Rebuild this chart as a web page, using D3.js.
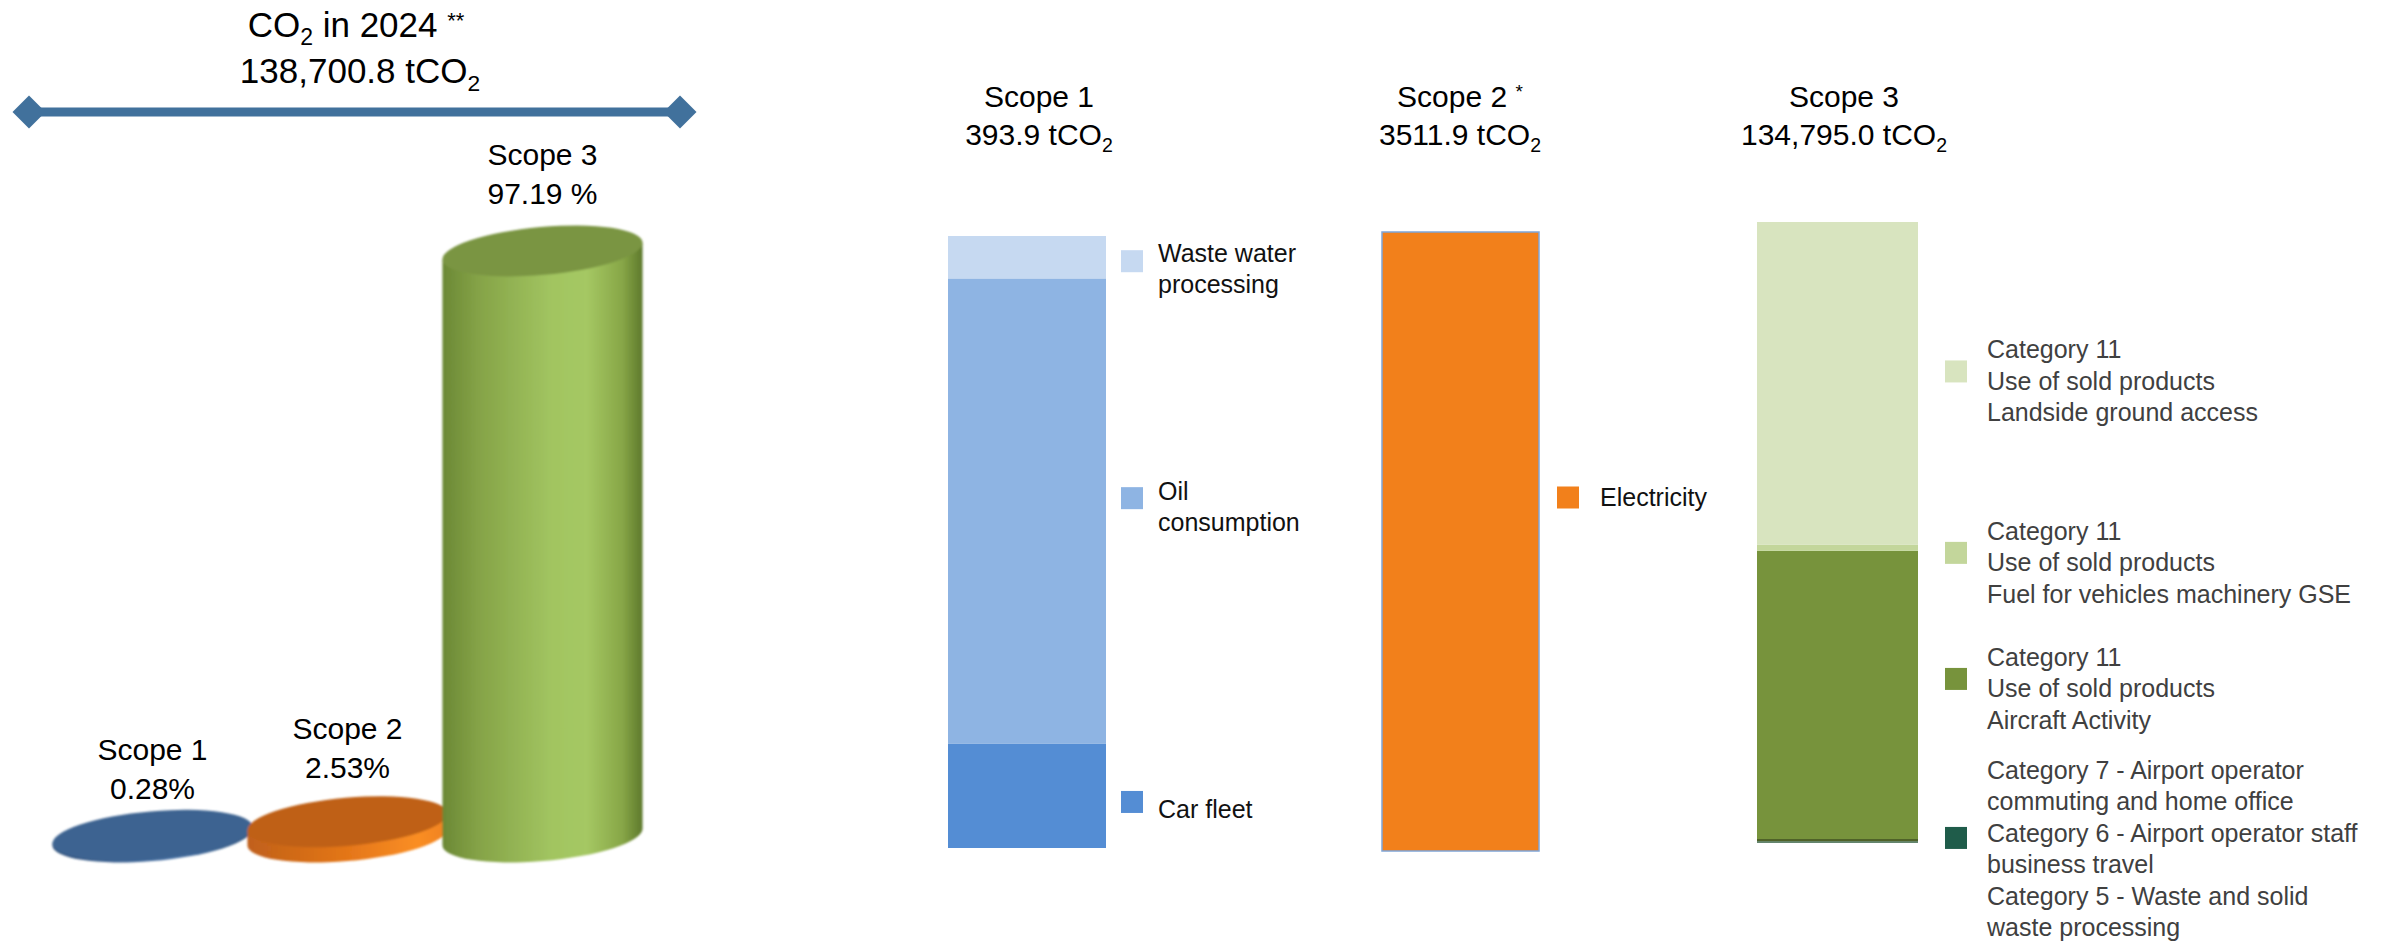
<!DOCTYPE html>
<html>
<head>
<meta charset="utf-8">
<script src="https://cdn.jsdelivr.net/npm/d3@7"></script>
<style>
  body { margin: 0; background: #fff; }
  svg { display: block; font-family: "Liberation Sans", Arial, sans-serif; }
</style>
</head>
<body>
<div class="canvas"></div>
<script>
// ---- data ----
const scopes = ['Scope 1', 'Scope 2', 'Scope 3'];
const scopeShares = [0.28, 2.53, 97.19];
const shareLabels = ['0.28%', '2.53%', '97.19 %'];
const scopeTotals = ['393.9', '3511.9', '134,795.0'];
const grandTotal = '138,700.8';
const reportYear = '2024';

const scope1Sources = ['Car fleet', 'Oil consumption', 'Waste water processing'];
const scope1Values = [67.0, 299.6, 27.3];
const scope1Lines = [['Car fleet'], ['Oil', 'consumption'], ['Waste water', 'processing']];
const scope1Colors = ['#548DD4', '#8EB4E3', '#C6D9F1'];

const scope2Sources = ['Electricity'];
const scope2Values = [3511.9];
const scope2Lines = [['Electricity']];
const scope2Colors = ['#F2801B'];

const scope3Sources = [
    'Category 5 - Waste and solid waste processing',
    'Category 6 - Airport operator staff business travel',
    'Category 7 - Airport operator commuting and home office',
    'Category 11 Use of sold products Aircraft Activity',
    'Category 11 Use of sold products Fuel for vehicles machinery GSE',
    'Category 11 Use of sold products Landside ground access'
];
const scope3Values = [110, 240, 520, 62540, 1300, 70085];
const scope3Lines = [
    null,
    ['Category 7 - Airport operator', 'commuting and home office',
     'Category 6 - Airport operator staff', 'business travel',
     'Category 5 - Waste and solid', 'waste processing'],
    null,
    ['Category 11', 'Use of sold products', 'Aircraft Activity'],
    ['Category 11', 'Use of sold products', 'Fuel for vehicles machinery GSE'],
    ['Category 11', 'Use of sold products', 'Landside ground access']
];
const scope3Colors = ['#4F6228', '#1F5C4A', '#4F6228', '#77933C', '#C3D69B', '#D8E4BF'];

// ---- svg ----
const W = 2396, H = 945;
const svg = d3.select('.canvas')
    .append('svg')
    .attr('width', W)
    .attr('height', H);

const defs = svg.append('defs');

// helper: text with subscript 2
const co2 = (sel, size, before, after) => {
    sel.append('tspan').text(before);
    sel.append('tspan').attr('font-size', size * 0.65).attr('dy', size * 0.22).text('2');
    if (after) sel.append('tspan').attr('dy', -size * 0.22).text(after);
};

// ---- left: totals title + arrow ----
const left = svg.append('g');
const titleX = 356;

const t1 = left.append('text').attr('x', titleX).attr('y', 37)
    .attr('text-anchor', 'middle').attr('font-size', 35).attr('fill', '#000');
t1.append('tspan').text('CO');
t1.append('tspan').attr('font-size', 23).attr('dy', 8).text('2');
t1.append('tspan').attr('dy', -8).text(` in ${reportYear} `);
t1.append('tspan').attr('font-size', 22).attr('dy', -9).text('**');

const t2 = left.append('text').attr('x', titleX + 4).attr('y', 83)
    .attr('text-anchor', 'middle').attr('font-size', 35).attr('fill', '#000');
co2(t2, 35, `${grandTotal} tCO`);

const arrow = { x1: 29, x2: 680, y: 112, d: 16.5, col: '#41719C' };
left.append('line')
    .attr('x1', arrow.x1).attr('x2', arrow.x2)
    .attr('y1', arrow.y).attr('y2', arrow.y)
    .attr('stroke', arrow.col).attr('stroke-width', 9);
[arrow.x1, arrow.x2].forEach(cx => {
    left.append('path')
        .attr('d', `M${cx - arrow.d},${arrow.y} L${cx},${arrow.y - arrow.d} L${cx + arrow.d},${arrow.y} L${cx},${arrow.y + arrow.d} Z`)
        .attr('fill', arrow.col);
});

// ---- left: cylinders ----
const cylX = d3.scaleBand().domain(scopes).range([55, 640]).padding(0);
const cylY = d3.scaleLinear().domain([0, 100]).range([837, 234]);

const cylStyle = [
    { top: '#3E6391', side: [['0%', '#2F4F78'], ['60%', '#4A74A8'], ['100%', '#34587F']] },
    { top: '#BF6119', side: [['0%', '#C0601A'], ['50%', '#E47619'], ['85%', '#FA8E24'], ['100%', '#F0821F']] },
    { top: '#7A9543', side: [['0%', '#6B8835'], ['18%', '#85A347'], ['55%', '#A2C561'], ['72%', '#A5C863'], ['90%', '#87A647'], ['100%', '#5E792C']] }
];
const labelNudge = [6, -2, -5];

const blur = defs.append('filter').attr('id', 'soft');
blur.append('feGaussianBlur').attr('stdDeviation', 0.9);

cylStyle.forEach((c, i) => {
    const gr = defs.append('linearGradient').attr('id', `side${i}`)
        .attr('x1', '0%').attr('x2', '100%').attr('y1', '0%').attr('y2', '0%');
    c.side.forEach(s => gr.append('stop').attr('offset', s[0]).attr('stop-color', s[1]));
});

const cyl = svg.append('g').attr('filter', 'url(#soft)');
const rx = cylX.bandwidth() / 2 * 1.03, ry = 24, tilt = -5;
const th = tilt * Math.PI / 180;
const t0 = Math.atan2(-ry * Math.sin(th), rx * Math.cos(th));
const pt = t => [rx * Math.cos(t) * Math.cos(th) - ry * Math.sin(t) * Math.sin(th),
                 rx * Math.cos(t) * Math.sin(th) + ry * Math.sin(t) * Math.cos(th)];
let pA = pt(t0), pB = pt(t0 + Math.PI);
const L = pA[0] < pB[0] ? pA : pB;
const R = pA[0] < pB[0] ? pB : pA;

scopes.forEach((s, i) => {
    const cx = cylX(s) + cylX.bandwidth() / 2;
    const yb = cylY(0), yt = cylY(scopeShares[i]);
    cyl.append('path')
        .attr('d', `M${cx + L[0]},${yt + L[1]} L${cx + L[0]},${yb + L[1]}
            A${rx},${ry} ${tilt} 0 0 ${cx + R[0]},${yb + R[1]}
            L${cx + R[0]},${yt + R[1]} Z`)
        .attr('fill', `url(#side${i})`);
    cyl.append('ellipse')
        .attr('cx', cx).attr('cy', yt).attr('rx', rx).attr('ry', ry)
        .attr('transform', `rotate(${tilt},${cx},${yt})`)
        .attr('fill', cylStyle[i].top);

    const lab = left.append('text').attr('text-anchor', 'middle')
        .attr('font-size', 30).attr('fill', '#000');
    const ly = yt - ry - 18 + labelNudge[i];
    lab.append('tspan').attr('x', cx).attr('y', ly - 39).text(s);
    lab.append('tspan').attr('x', cx).attr('y', ly).text(shareLabels[i]);
});

// ---- right: stacked breakdown bars ----
const panels = [
    { scope: 'Scope 1', star: '', sources: scope1Sources, values: scope1Values, lines: scope1Lines,
      colors: scope1Colors, left: 948, width: 158, top: 236, bottom: 848, headX: 1039,
      sqGap: 15, txGap: 52, lh: 31, textCol: '#111', stroke: null,
      labels: [ { s: 0, nudge: 6, base: 16 }, { s: 1, nudge: -13, base: 2 }, { s: 2, nudge: 4, base: 1 } ] },
    { scope: 'Scope 2', star: '*', sources: scope2Sources, values: scope2Values, lines: scope2Lines,
      colors: scope2Colors, left: 1382, width: 157, top: 232, bottom: 851, headX: 1460,
      sqGap: 18, txGap: 61, lh: 31, textCol: '#111', stroke: '#7FA5D8',
      labels: [ { s: 0, nudge: -44, base: 8 } ] },
    { scope: 'Scope 3', star: '', sources: scope3Sources, values: scope3Values, lines: scope3Lines,
      colors: scope3Colors, left: 1757, width: 161, top: 222, bottom: 843, headX: 1844,
      sqGap: 27, txGap: 69, lh: 31.5, textCol: '#404040', stroke: null,
      labels: [ { s: 5, nudge: -12, base: -13 }, { s: 4, nudge: 5, base: -13 },
                { s: 3, nudge: -16, base: -13 }, { s: 1, nudge: -4, base: -59 } ] }
];

panels.forEach((p, pi) => {
    const g = svg.append('g');
    const row = {};
    p.sources.forEach((k, i) => row[k] = p.values[i]);
    const total = d3.sum(p.values);

    const x = d3.scaleBand().domain([p.scope]).range([p.left, p.left + p.width]).padding(0);
    const y = d3.scaleLinear().domain([0, total]).range([p.bottom, p.top]);
    const series = d3.stack().keys(p.sources)([row]);

    g.selectAll('rect.seg')
        .data(series)
        .enter()
        .append('rect')
        .attr('class', 'seg')
        .attr('x', x(p.scope))
        .attr('width', x.bandwidth())
        .attr('y', d => y(d[0][1]))
        .attr('height', d => y(d[0][0]) - y(d[0][1]))
        .attr('fill', (d, i) => p.colors[i]);

    if (p.stroke) {
        g.append('rect')
            .attr('x', x(p.scope)).attr('width', x.bandwidth())
            .attr('y', y(total)).attr('height', y(0) - y(total))
            .attr('fill', 'none').attr('stroke', p.stroke).attr('stroke-width', 1.5);
    }

    // header
    const h1 = g.append('text').attr('x', p.headX).attr('y', 107)
        .attr('text-anchor', 'middle').attr('font-size', 30).attr('fill', '#000');
    h1.append('tspan').text(p.scope);
    if (p.star) {
        h1.append('tspan').text(' ');
        h1.append('tspan').attr('font-size', 19).attr('dy', -9).text(p.star);
    }
    const h2 = g.append('text').attr('x', p.headX).attr('y', 145)
        .attr('text-anchor', 'middle').attr('font-size', 30).attr('fill', '#000');
    co2(h2, 30, `${scopeTotals[pi]} tCO`);

    // series labels with legend keys
    const bx = x(p.scope) + x.bandwidth();
    p.labels.forEach(l => {
        const seg = series[l.s][0];
        const sc = (y(seg[0]) + y(seg[1])) / 2 + l.nudge;
        g.append('rect')
            .attr('x', bx + p.sqGap).attr('y', sc - 11)
            .attr('width', 22).attr('height', 22)
            .attr('fill', p.colors[l.s]);
        const t = g.append('text').attr('y', sc + l.base)
            .attr('font-size', 25).attr('fill', p.textCol);
        p.lines[l.s].forEach((ln, i) => {
            t.append('tspan').attr('x', bx + p.txGap).attr('dy', i ? p.lh : 0).text(ln);
        });
    });
});
</script>
</body>
</html>
